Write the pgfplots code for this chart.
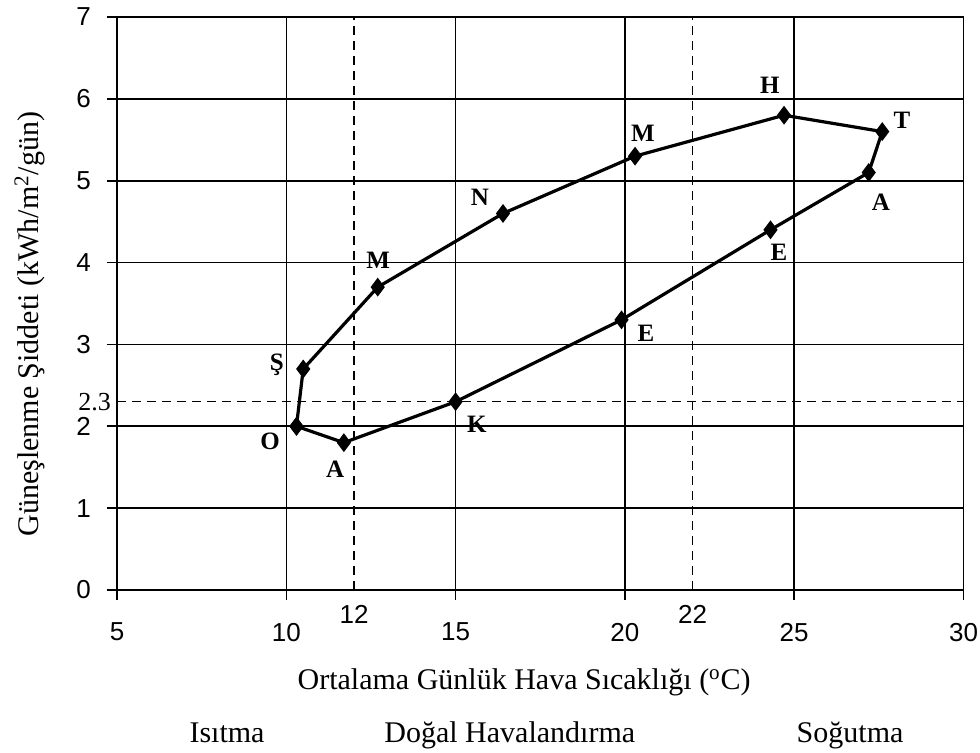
\documentclass[border=0pt]{standalone}
\usepackage{pgfplots}
\pgfplotsset{compat=1.18}
\usepackage{fontspec}
\setmainfont{Liberation Serif}
\setsansfont{Liberation Sans}
\begin{document}
\begin{tikzpicture}
\begin{axis}[
 scale only axis, width=423.25pt, height=286.5pt,
 xmin=5, xmax=30, ymin=0, ymax=7,
 xtick={5,10,...,30}, ytick={0,...,7},
 tick align=outside, major tick length=5pt,
 xtick pos=bottom, ytick pos=left,
 grid=major, major grid style={black, line width=0.8pt},
 axis line style={black, line width=0.8pt},
 every tick/.style={black, line width=0.8pt},
 /pgf/number format/assume math mode=true,
 ticklabel style={font=\sffamily\fontsize{13}{15}\selectfont},
 xticklabel style={yshift=-8pt},
 yticklabel style={xshift=-4.5pt},
 extra x ticks={12,22},
 extra x tick labels={12,22},
 extra x tick style={major tick length=0pt,
   major grid style={black, line width=0.65pt, dash pattern=on 4.5pt off 3pt},
   xticklabel style={yshift=4pt}},
 extra y ticks={2.3},
 extra y tick labels={2.3},
 extra y tick style={major tick length=0pt,
   major grid style={black, line width=0.65pt, dash pattern=on 4.5pt off 3pt},
   yticklabel style={font=\rmfamily\fontsize{13}{15}\selectfont, xshift=5pt}},
 clip=false,
]
\addplot[black, line width=1.6pt, mark=diamond*, mark size=3.4pt, mark options={solid, fill=black}]
 coordinates {(10.3,2.0) (10.5,2.7) (12.7,3.7) (16.4,4.6) (20.3,5.3) (24.7,5.8) (27.6,5.6) (27.2,5.1) (24.3,4.4) (19.9,3.3) (15.0,2.3) (11.7,1.8) (10.3,2.0)};
\begin{scope}[every node/.style={font=\rmfamily\bfseries\fontsize{12.5}{14}\selectfont}]
\node at (axis cs:9.52,1.81) {O};
\node at (axis cs:9.72,2.75) {Ş};
\node at (axis cs:12.71,4.03) {M};
\node at (axis cs:15.72,4.80) {N};
\node at (axis cs:20.53,5.58) {M};
\node at (axis cs:24.28,6.16) {H};
\node at (axis cs:28.18,5.74) {T};
\node at (axis cs:27.56,4.74) {A};
\node at (axis cs:24.55,4.12) {E};
\node at (axis cs:20.62,3.14) {E};
\node at (axis cs:15.63,2.03) {K};
\node at (axis cs:11.44,1.47) {A};
\end{scope}
\begin{scope}[every node/.style={font=\rmfamily\fontsize{15}{18}\selectfont}]
\node[rotate=90, anchor=center] at ([xshift=-43.5pt]rel axis cs:0,0.464) {Güneşlenme Şiddeti (kWh/m\textsuperscript{2}/gün)};
\node[anchor=base] at ([yshift=-50pt]rel axis cs:0.481,0) {Ortalama Günlük Hava Sıcaklığı (\textsuperscript{o}C)};
\node[anchor=base] at ([yshift=-76.5pt]rel axis cs:0.130,0) {Isıtma};
\node[anchor=base] at ([yshift=-76.5pt]rel axis cs:0.464,0) {Doğal Havalandırma};
\node[anchor=base] at ([yshift=-76.5pt]rel axis cs:0.866,0) {Soğutma};
\end{scope}
\coordinate (SW) at (rel axis cs:0,0);
\end{axis}
\pgfresetboundingbox
\path[use as bounding box] ([xshift=-58.5pt,yshift=-81.5pt]SW) rectangle ([xshift=431.5pt,yshift=295pt]SW);
\end{tikzpicture}
\end{document}
